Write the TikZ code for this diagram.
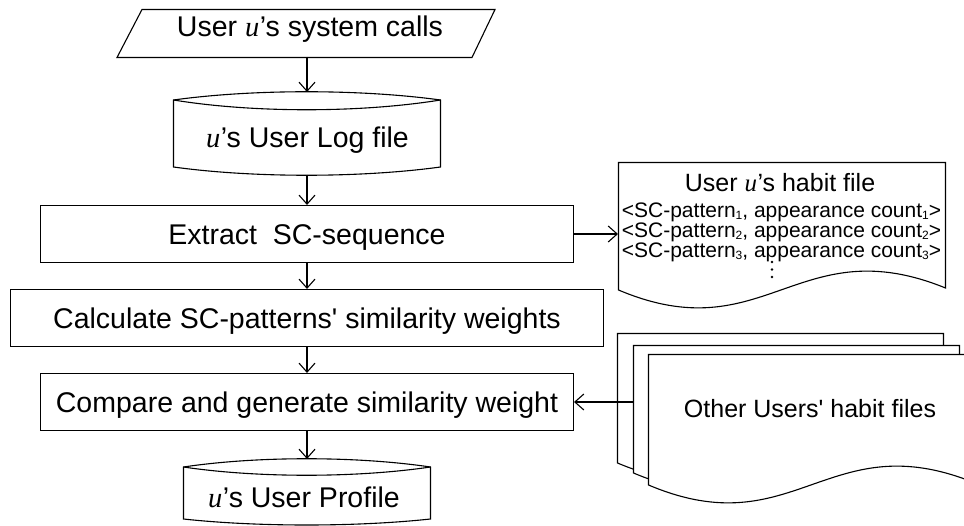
\documentclass[tikz,border=0pt]{standalone}
\usepackage{fontspec}
\setmainfont{Liberation Sans}
\newfontfamily\ufont{Liberation Serif}
\usetikzlibrary{arrows.meta}
\newcommand\uu{{\ufont\itshape u}\kern0.5pt’}
\newcommand\sbs[1]{\raisebox{-1.8pt}{\fontsize{12}{12}\selectfont #1}}
\begin{document}
\begin{tikzpicture}[x=1pt,y=-1pt,line width=1.1pt,
  bigfont/.style={font=\fontsize{28.5}{30}\selectfont},
  box/.style={draw,bigfont,inner sep=0pt,minimum height=57pt,text height=20.4pt,text depth=0pt},
  frame/.style={inner sep=0pt,outer sep=0pt},
  txt/.style={inner sep=0pt,anchor=base},
  arr/.style={-{Straight Barb[length=9pt,width=16pt]}},
  shp/.style={draw,fill=white,line join=miter}]
\useasboundingbox (0,0) rectangle (964,526);
\clip (0,0) rectangle (964,526);

% ---- system calls (parallelogram)
\node[frame,minimum width=353pt,minimum height=48pt] (sys) at (307,33) {};
\draw[shp] (142,9.5) -- (495,9.5) -- (472,57.5) -- (117,57.5) -- cycle;
\node[txt,bigfont] (systxt) at (310,37) {User \uu s system calls};

% ---- user log file (disk)
\node[frame,minimum width=267pt,minimum height=83pt] (log) at (307,133.5) {};
\draw[shp] (173.5,100) .. controls (253,89) and (360,89) .. (440.5,100) -- (440.5,167)
  .. controls (360,178) and (253,178) .. (173.5,167) -- cycle;
\draw (173.5,100) .. controls (253,113) and (360,113) .. (440.5,100);
\node[txt,bigfont] (logtxt) at (307.5,148) {\uu s User Log file};

% ---- process boxes
\node[box,minimum width=533pt] (extract) at (307,234) {Extract\ \ SC-sequence};
\node[box,minimum width=593pt] (calc) at (307,318) {Calculate SC-patterns\textquotesingle\ similarity weights};
\node[box,minimum width=533pt] (compare) at (307,402) {Compare and generate similarity weight};

% ---- user profile (disk)
\node[frame,minimum width=247pt,minimum height=67pt] (profile) at (307,492.5) {};
\draw[shp] (183.5,467) .. controls (257,456) and (356,456) .. (430.5,467) -- (430.5,519)
  .. controls (356,527) and (257,527) .. (183.5,519) -- cycle;
\draw (183.5,467) .. controls (257,478) and (356,478) .. (430.5,467);
\node[txt,bigfont] (proftxt) at (304,507) {\uu s User Profile};

% ---- user u's habit file (document)
\node[frame,minimum width=327pt,minimum height=128pt] (habit) at (781.5,226) {};
\draw[shp] (618.5,162.5) -- (945.5,162.5) -- (945.5,288) .. controls (798,228) and (765,352) .. (618.5,290) -- cycle;
\node[txt,font=\fontsize{25}{27}\selectfont] (habittitle) at (780,192) {User \uu s habit file};
\node[inner sep=0pt,anchor=north,align=center,font=\fontsize{21}{19}\selectfont] (hlines) at (781.5,202)
  {<SC-pattern\sbs{1}, appearance count\sbs{1}>\\
   <SC-pattern\sbs{2}, appearance count\sbs{2}>\\
   <SC-pattern\sbs{3}, appearance count\sbs{3}>};
\fill (772,262) circle (1.3pt) (772,269.5) circle (1.3pt) (772,277) circle (1.3pt);

% ---- other users' habit files (stacked documents)
\node[frame,minimum width=326pt,minimum height=130pt] (back) at (780,398) {};
\draw[shp] (617.5,333.5) -- (943.5,333.5) -- (943.5,461) .. controls (796,401) and (764,525) .. (617.5,463) -- cycle;
\node[frame,minimum width=326pt,minimum height=128pt] (middle) at (796,409) {};
\draw[shp] (633.5,345.5) -- (959.5,345.5) -- (959.5,471) .. controls (812,411) and (780,535) .. (633.5,473) -- cycle;
\node[frame,minimum width=327pt,minimum height=131pt] (front) at (811.5,419.5) {};
\draw[shp] (648.5,354.5) -- (975,354.5) -- (975,483) .. controls (828,423) and (795,547) .. (648.5,485) -- cycle;
\node[txt,font=\fontsize{25}{27}\selectfont] (othertxt) at (810,418) {Other Users\textquotesingle\ habit files};

% ---- connectors
\draw[arr] (sys.south) -- (log.north);
\draw[arr] (log.south) -- (extract.north);
\draw[arr] (extract.south) -- (calc.north);
\draw[arr] (calc.south) -- (compare.north);
\draw[arr] (compare.south) -- (profile.north);
\draw[arr] (extract.east) -- (extract.east -| habit.west);
\draw[arr] (compare.east -| middle.west) -- (compare.east);
\end{tikzpicture}
\end{document}
